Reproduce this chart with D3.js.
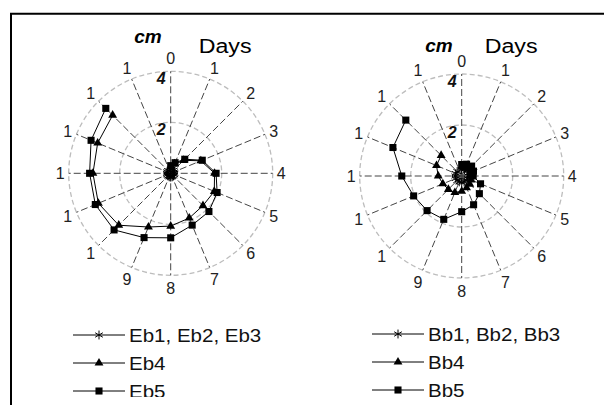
<!DOCTYPE html>
<html><head><meta charset="utf-8">
<script src="https://cdn.jsdelivr.net/npm/d3@7/dist/d3.min.js"></script>
<style>body{margin:0;background:#fff}svg{display:block}</style>
</head><body><svg id="c" width="604" height="405"></svg>
<script>
// ---- data ----
const dayLabels = ["0","1","2","3","4","5","6","7","8","9","1","1","1","1","1","1"];
const radialTicks = [2, 4];
const eb123 = [0.15,0.2,0.18,0.15,0.15,0.15,0.15,0.15,0.15,0.15,0.15,0.15,0.15,0.15,0.15];
const eb4   = [0.25,0.4,0.72,1.28,1.72,1.85,1.79,1.9,2.07,2.28,2.88,3.07,3.05,3.1,3.22];
const eb5   = [0.3,0.45,0.78,1.34,1.78,1.97,2.12,2.2,2.53,2.73,3.14,3.2,3.18,3.38,3.6];
const bb123 = [0.25,0.28,0.3,0.28,0.25,0.25,0.25,0.25,0.25,0.25,0.25,0.25,0.25,0.25,0.25];
const bb4   = [0.35,0.38,0.4,0.38,0.35,0.4,0.45,0.5,0.6,0.7,0.74,0.8,0.92,1.07,1.14];
const bb5   = [0.45,0.5,0.55,0.5,0.45,0.8,0.98,1.22,1.4,1.84,1.92,2.04,2.35,2.92,3.1];
const ebNames = ["Eb1, Eb2, Eb3", "Eb4", "Eb5"];
const bbNames = ["Bb1, Bb2, Bb3", "Bb4", "Bb5"];
const unitLabel = "cm";
const axisTitle = "Days";

// ---- layout ----
const svg = d3.select("#c");
const charts = [
  {cx:170.7, cy:173.3, cmY:43, daysX:28, series:[eb123, eb4, eb5], names:ebNames, legX:73, legY:335},
  {cx:461.7, cy:176,   cmY:52, daysX:23, series:[bb123, bb4, bb5], names:bbNames, legX:372, legY:334}
];
const R = 102;
const rScale = d3.scaleLinear().domain([0, 4]).range([0, R]);
const aScale = d3.scaleLinear().domain([0, dayLabels.length]).range([0, 2 * Math.PI]);
const symbols = [d3.symbolAsterisk, d3.symbolTriangle, d3.symbolSquare];
const symSizes = [55, 34, 50];

svg.append("defs").append("clipPath").attr("id", "clipB")
  .append("rect").attr("x", 0).attr("y", 0).attr("width", 604).attr("height", 397);

// frame
svg.append("path").attr("d", "M11,405V13.7H606").attr("fill", "none")
  .attr("stroke", "#000").attr("stroke-width", 2);

function marker(g, i, x, y) {
  const p = g.append("path")
    .attr("d", d3.symbol(symbols[i], symSizes[i])())
    .attr("transform", `translate(${x},${y})`);
  if (i === 0) p.attr("fill", "none").attr("stroke", "#000").attr("stroke-width", 1);
  else p.attr("fill", "#000");
}

charts.forEach(ch => {
  const g = svg.append("g").attr("transform", `translate(${ch.cx},${ch.cy})`);
  // rings
  g.selectAll("circle.ring").data(radialTicks).join("circle")
    .attr("r", d => rScale(d)).attr("fill", "none")
    .attr("stroke", "#bdbdbd").attr("stroke-width", 1.3).attr("stroke-dasharray", "5,3");
  // spokes
  g.selectAll("line.spoke").data(dayLabels).join("line")
    .attr("x1", 0).attr("y1", 0)
    .attr("x2", (d, i) => d3.pointRadial(aScale(i), R)[0])
    .attr("y2", (d, i) => d3.pointRadial(aScale(i), R)[1])
    .attr("stroke", "#444").attr("stroke-width", 1).attr("stroke-dasharray", "7,3");
  // day labels
  g.selectAll("text.day").data(dayLabels).join("text")
    .attr("x", (d, i) => {
      const a = aScale(i);
      const off = R + 4 + Math.hypot(4.5 * Math.sin(a), 9 * Math.cos(a));
      return d3.pointRadial(a, off)[0];
    })
    .attr("y", (d, i) => {
      const a = aScale(i);
      const off = R + 4 + Math.hypot(4.5 * Math.sin(a), 9 * Math.cos(a));
      return d3.pointRadial(a, off)[1] + 6;
    })
    .attr("text-anchor", "middle")
    .attr("font-family", "Liberation Sans, Arial, sans-serif").attr("font-size", 16)
    .attr("fill", "#222").text(d => d);
  // series
  const line = d3.lineRadial().angle((d, i) => aScale(i)).radius(d => rScale(d));
  ch.series.forEach((s, si) => {
    g.append("path").attr("d", line(s)).attr("fill", "none")
      .attr("stroke", "#000").attr("stroke-width", 1);
  });
  ch.series.forEach((s, si) => {
    s.forEach((v, i) => {
      const [x, y] = d3.pointRadial(aScale(i), rScale(v));
      marker(g, si, x, y);
    });
  });
  // radial tick labels
  g.selectAll("text.rt").data(radialTicks).join("text")
    .attr("x", -5).attr("y", d => -rScale(d) + 12.5)
    .attr("text-anchor", "end")
    .attr("font-family", "Liberation Sans, Arial, sans-serif")
    .attr("font-size", 16).attr("font-weight", "bold").attr("font-style", "italic")
    .attr("fill", "#111").text(d => d);
  // titles
  svg.append("text").attr("x", ch.cx - 9).attr("y", ch.cmY)
    .attr("text-anchor", "end")
    .attr("font-family", "Liberation Sans, Arial, sans-serif")
    .attr("font-size", 19).attr("font-weight", "bold").attr("font-style", "italic")
    .text(unitLabel);
  svg.append("text")
    .attr("transform", `translate(${ch.cx + ch.daysX},53) scale(1.16,1)`)
    .attr("font-family", "Liberation Sans, Arial, sans-serif")
    .attr("font-size", 20).text(axisTitle);
  // legend
  const lg = svg.append("g").attr("clip-path", "url(#clipB)");
  ch.names.forEach((n, i) => {
    const y = ch.legY + i * 28;
    lg.append("line").attr("x1", ch.legX).attr("x2", ch.legX + 52)
      .attr("y1", y).attr("y2", y).attr("stroke", "#000").attr("stroke-width", 1);
    marker(lg, i, ch.legX + 26, y);
    lg.append("text")
      .attr("transform", `translate(${ch.legX + 56},${y + 7}) scale(1.08,1)`)
      .attr("font-family", "Liberation Sans, Arial, sans-serif")
      .attr("font-size", 19).attr("fill", "#111").text(n);
  });
});
</script></body></html>
